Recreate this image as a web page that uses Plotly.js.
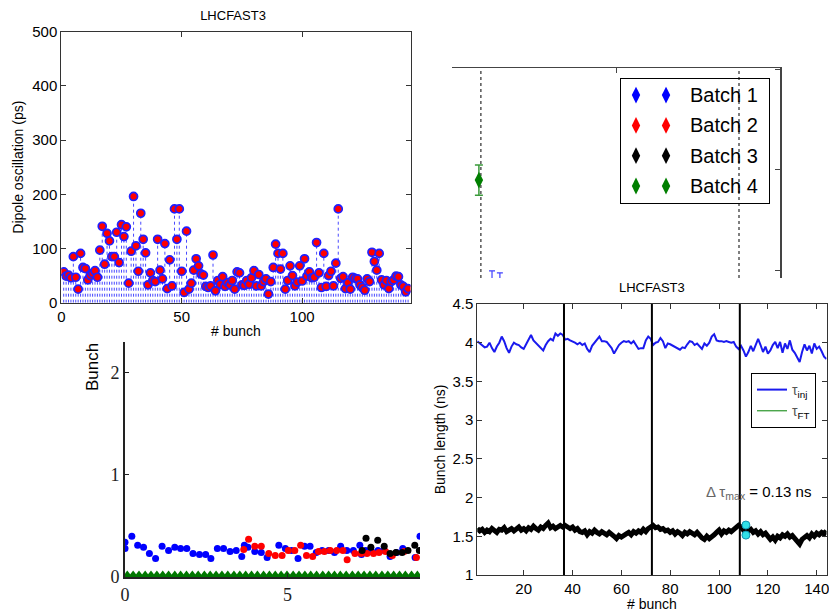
<!DOCTYPE html>
<html><head><meta charset="utf-8">
<script src="https://cdn.plot.ly/plotly-3.0.1.min.js"></script>
<style>html,body{margin:0;padding:0;background:#fff}#chart{width:829px;height:612px}</style>
</head><body><div id="chart"></div>
<script>
// ---------- Panel 1 : dipole oscillation per bunch (stem plot) ----------
const dipolePs = [57,49,51,46,85,47,25,91,65,63,42,50,54,59,47,97,141,71,128,114,85,85,130,74,144,122,140,36,95,196,
  105,58,165,117,92,33,55,41,39,117,60,44,109,26,79,31,173,117,173,58,19,132,25,36,60,81,68,53,51,30,
  28,31,88,22,41,34,48,30,37,33,41,25,57,55,33,32,41,34,46,59,31,52,31,39,44,16,39,65,108,91,
  62,91,25,41,68,50,31,38,68,40,81,49,57,46,47,111,55,28,91,30,50,58,31,73,173,45,48,26,37,25,
  47,45,44,33,28,23,44,39,93,76,60,91,42,33,41,26,39,42,49,48,33,30,20,26];
const p1XTicks = [0, 50, 100];

// ---------- Panel 2 : fragment with error bars and batch legend ----------
const batchNames = ['Batch 1', 'Batch 2', 'Batch 3', 'Batch 4'];
const batchColors = ['#0000ff', '#ff0000', '#000000', '#007f00'];
const p2GreenX = [0.82], p2GreenY = [0.9], p2GreenErr = [0.15];
const p2BlueX = [1.22, 1.46], p2BlueY = [-0.30, -0.32], p2BlueErr = [0.30, 0.30];
const p2GridX = [0.88, 8.75];
const p2XTicks = [0, 5, 10], p2YTicks = [0, 1, 2];
const legendKeyCols = [1, 2];

// ---------- Panel 3 : bunch scatter ----------
const p3BlueX = [0.0,0.0,0.21,0.39,0.57,0.75,0.94,1.14,1.34,1.53,1.71,1.90,2.09,2.29,2.48,2.64,2.84,3.03,3.23,3.42,
  3.59,3.67,3.78,3.99,4.19,4.37,4.73,4.93,5.12,5.32,5.52,5.69,5.88,6.06,6.26,6.44,6.63,6.82,7.02,7.22,
  7.27,7.40,7.58,7.78,7.97,8.15,8.35,8.54,8.92,9.07];
const p3BlueY = [0.34,0.28,0.40,0.31,0.29,0.23,0.18,0.30,0.26,0.29,0.28,0.28,0.23,0.22,0.22,0.18,0.28,0.28,0.25,0.26,
  0.20,0.31,0.29,0.25,0.24,0.19,0.31,0.28,0.26,0.18,0.30,0.30,0.24,0.26,0.26,0.24,0.30,0.26,0.26,0.31,
  0.22,0.26,0.25,0.26,0.26,0.20,0.24,0.28,0.19,0.40];
const p3RedX = [3.65,3.80,3.99,4.19,4.42,4.62,4.83,5.02,5.22,5.40,5.58,5.77,5.95,6.13,6.31,6.51,6.70,6.83,7.07,7.26,7.44,7.64,7.81,8.01,8.22,8.58,8.96];
const p3RedY = [0.27,0.37,0.30,0.30,0.23,0.21,0.21,0.26,0.26,0.31,0.21,0.20,0.25,0.25,0.26,0.26,0.26,0.17,0.23,0.23,0.23,0.23,0.24,0.25,0.21,0.25,0.19];
const p3BlackX = [7.29,7.41,7.56,7.77,7.97,8.15,8.33,8.52,8.70,8.91,9.05];
const p3BlackY = [0.26,0.38,0.29,0.36,0.30,0.23,0.24,0.24,0.26,0.31,0.26];
const p3GreenX = [0.07,0.25,0.43,0.62,0.80,0.98,1.16,1.34,1.53,1.71,1.89,2.07,2.25,2.44,2.62,2.80,2.98,3.16,3.35,3.53,
  3.71,3.89,4.07,4.26,4.44,4.62,4.80,4.98,5.17,5.35,5.53,5.71,5.89,6.08,6.26,6.44,6.62,6.80,6.99,7.17,
  7.35,7.53,7.71,7.90,8.08,8.26,8.44,8.62,8.81,8.99];
const p3GreenY = [0,0,0,0,0,0,0,0,0,0,0,0,0,0,0,0,0,0,0,0,0,0,0,0,0,0,0,0,0,0,0,0,0,0,0,0,0,0,0,0,0,0,0,0,0,0,0,0,0,0];
const p3XTicks = [0, 5], p3YTicks = [0, 1, 2];

// ---------- Panel 4 : bunch length ----------
const injLength = [4.02,3.99,3.97,3.94,3.95,4.00,3.93,3.88,3.95,4.00,4.08,4.02,3.93,3.87,3.95,4.00,3.98,3.97,3.94,3.92,3.98,4.05,4.10,4.03,4.00,3.97,3.93,3.90,3.97,4.02,4.05,4.03,4.12,4.09,4.12,4.10,
  4.04,4.05,4.03,4.02,4.00,3.98,4.00,3.97,3.99,3.92,3.88,3.96,4.00,4.05,4.08,4.02,4.02,4.01,3.97,3.93,3.86,3.92,3.97,4.00,4.02,4.01,4.02,3.99,4.02,3.97,3.92,3.93,3.93,4.03,4.08,4.05,
  3.97,4.00,4.01,4.06,4.02,3.93,3.99,3.98,3.96,3.94,3.92,3.91,3.94,3.93,3.98,4.02,4.01,3.97,3.99,3.95,3.92,3.99,3.96,4.00,4.08,4.11,4.03,4.02,4.02,4.01,4.02,4.01,4.00,4.01,3.95,3.92,
  3.96,3.90,3.82,3.88,3.96,3.89,3.96,4.05,3.97,3.88,3.95,3.86,3.90,3.97,4.01,3.93,4.01,3.87,3.99,3.92,4.03,3.91,3.87,3.81,3.75,3.88,3.98,3.90,3.96,3.86,3.99,3.92,3.95,3.89,3.82,3.79];
const ftLength = [1.60,1.57,1.59,1.55,1.58,1.56,1.60,1.57,1.55,1.59,1.58,1.61,1.56,1.58,1.60,1.57,1.59,1.62,1.58,1.60,1.57,1.61,1.59,1.63,1.60,1.58,1.62,1.60,1.64,1.67,1.61,1.63,1.60,1.62,1.64,1.62,
  1.64,1.62,1.60,1.62,1.58,1.60,1.56,1.55,1.57,1.52,1.56,1.54,1.58,1.55,1.53,1.56,1.54,1.52,1.55,1.53,1.50,1.47,1.51,1.49,1.52,1.53,1.55,1.52,1.56,1.54,1.57,1.55,1.59,1.56,1.60,1.63,
  1.64,1.61,1.62,1.59,1.60,1.57,1.58,1.55,1.57,1.53,1.56,1.54,1.51,1.55,1.53,1.56,1.54,1.52,1.55,1.50,1.48,1.46,1.50,1.47,1.49,1.52,1.55,1.58,1.53,1.57,1.55,1.58,1.56,1.59,1.61,1.64,
  1.62,1.58,1.60,1.57,1.59,1.55,1.57,1.53,1.56,1.52,1.54,1.50,1.46,1.49,1.45,1.50,1.48,1.52,1.50,1.53,1.49,1.51,1.47,1.43,1.40,1.46,1.49,1.51,1.48,1.53,1.50,1.54,1.52,1.55,1.53,1.57];
const batchEdges = [36.5, 72.5, 108.5];
const deltaMarkX = [111, 111], deltaMarkY = [1.645, 1.515];
const p4XTicks = [20, 40, 60, 80, 100, 120, 140];

// ---------- build ----------
const SANS = 'Liberation Sans, Arial, Helvetica, sans-serif';
const SERIF = 'Liberation Serif, DejaVu Serif, serif';
const bunchIdx = dipolePs.map((_, i) => i + 1);
const bunchIdx4 = injLength.map((_, i) => i + 1);

const stemX = [], stemY = [];
dipolePs.forEach((v, i) => { stemX.push(bunchIdx[i], bunchIdx[i], null); stemY.push(0, v, null); });

const traces = [
  {x: stemX, y: stemY, xaxis: 'x', yaxis: 'y', mode: 'lines', showlegend: false, hoverinfo: 'skip',
   line: {color: '#4a4aff', width: 1, dash: 'dot'}},
  {x: bunchIdx, y: dipolePs, xaxis: 'x', yaxis: 'y', mode: 'markers', showlegend: false,
   marker: {color: '#ff0000', size: 8, line: {color: '#2020ff', width: 1.7}}},

  // panel 2
  {x: p2GreenX, y: p2GreenY, xaxis: 'x2', yaxis: 'y2', mode: 'markers', showlegend: false,
   marker: {symbol: 'diamond-tall', color: '#007f00', size: 12},
   error_y: {type: 'data', array: p2GreenErr, visible: true, color: '#3a9a3a', thickness: 1.5, width: 4}},
  {x: p2BlueX, y: p2BlueY, xaxis: 'x2', yaxis: 'y2', mode: 'markers', showlegend: false,
   marker: {symbol: 'diamond-tall', color: '#0000ff', size: 10},
   error_y: {type: 'data', array: p2BlueErr, visible: true, color: '#4040ff', thickness: 1.2, width: 3}},

  // panel 3
  {x: p3GreenX, y: p3GreenY, xaxis: 'x3', yaxis: 'y3', mode: 'markers', showlegend: false,
   marker: {symbol: 'triangle-up', color: '#007700', size: 13}},
  {x: p3BlueX, y: p3BlueY, xaxis: 'x3', yaxis: 'y3', mode: 'markers', showlegend: false,
   marker: {color: '#0000ff', size: 7}},
  {x: p3RedX, y: p3RedY, xaxis: 'x3', yaxis: 'y3', mode: 'markers', showlegend: false,
   marker: {color: '#ff0000', size: 7}},
  {x: p3BlackX, y: p3BlackY, xaxis: 'x3', yaxis: 'y3', mode: 'markers', showlegend: false,
   marker: {color: '#000000', size: 7}},

  // panel 4
  {x: bunchIdx4, y: injLength, xaxis: 'x4', yaxis: 'y4', mode: 'lines', name: '<span style="color:#555">τ</span><sub>inj</sub>',
   line: {color: '#1a1aee', width: 2}},
  {x: bunchIdx4, y: ftLength, xaxis: 'x4', yaxis: 'y4', mode: 'lines', name: '<span style="color:#555">τ</span><sub>FT</sub>',
   line: {color: '#008000', width: 1}},
  {x: bunchIdx4, y: ftLength, xaxis: 'x4', yaxis: 'y4', mode: 'lines', showlegend: false,
   line: {color: '#000000', width: 5}},
  {x: deltaMarkX, y: deltaMarkY, xaxis: 'x4', yaxis: 'y4', mode: 'markers', showlegend: false,
   marker: {color: '#30e0e8', size: 8, line: {color: '#1090b0', width: 1}}}
];

// panel 2 legend keys (two diamonds per batch)
batchNames.forEach((name, i) => {
  traces.push({x: legendKeyCols, y: legendKeyCols.map(() => i + 1), xaxis: 'x5', yaxis: 'y5', mode: 'markers',
    showlegend: false, hoverinfo: 'skip', marker: {symbol: 'diamond-tall', color: batchColors[i], size: 12}});
});

const W = 829, H = 612;
const dx = (a, b) => [a / W, b / W];
const dy = (top, bottom) => [1 - bottom / H, 1 - top / H];

const boxAxis = (extra) => Object.assign({
  showline: true, linecolor: '#333', linewidth: 1, mirror: 'ticks', ticks: 'inside', ticklen: 5,
  tickcolor: '#333', showgrid: false, zeroline: false, ticklabeloverflow: 'allow',
  tickfont: {family: SANS, size: 15, color: '#000'}
}, extra);

const layout = {
  width: W, height: H, margin: {l: 0, r: 0, t: 0, b: 0},
  paper_bgcolor: '#fff', plot_bgcolor: 'rgba(0,0,0,0)',
  font: {family: SANS, color: '#000'},
  title: {text: 'LHCFAST3', x: 233 / W, y: 1 - 15 / H, xanchor: 'center', yanchor: 'middle',
          font: {family: SANS, size: 13, color: '#000'}},
  showlegend: true,
  legend: {x: 751 / W, y: 1 - 373 / H, xanchor: 'left', yanchor: 'top', bgcolor: '#fff',
           bordercolor: '#000', borderwidth: 1, font: {family: SANS, size: 14, color: '#000'},
           itemwidth: 30, tracegroupgap: 4},

  xaxis: boxAxis({domain: dx(61.3, 410.5), anchor: 'y', range: [0, 145], tickvals: p1XTicks,
    title: {text: '# bunch', font: {family: SANS, size: 14}, standoff: 2}}),
  yaxis: boxAxis({domain: dy(31.7, 302.7), anchor: 'x', range: [0, 500], dtick: 100,
    title: {text: 'Dipole oscillation (ps)', font: {family: SANS, size: 14}, standoff: 5}}),

  xaxis2: {domain: dx(452, 780), anchor: 'y2', side: 'top', range: [0, 10], tickvals: p2XTicks,
    showticklabels: false, ticks: 'inside', ticklen: 5, tickcolor: '#444', showline: true, linecolor: '#444',
    linewidth: 1.5, showgrid: false, zeroline: false},
  yaxis2: {domain: dy(68, 278), anchor: 'x2', side: 'right', range: [-0.07, 2.01], tickvals: p2YTicks,
    showticklabels: false, ticks: 'inside', ticklen: 5, tickcolor: '#444', showline: true, linecolor: '#444',
    linewidth: 1.5, showgrid: false, zeroline: false},

  xaxis3: {domain: dx(125, 420), anchor: 'y3', range: [0, 9.07], tickvals: p3XTicks, ticks: 'inside', ticklen: 4,
    tickcolor: '#222', showline: true, linecolor: '#222', linewidth: 2, showgrid: false, zeroline: false,
    tickfont: {family: SERIF, size: 18, color: '#222'}},
  yaxis3: {domain: dy(342, 577), anchor: 'x3', range: [0, 2.3], tickvals: p3YTicks, ticks: 'inside', ticklen: 4,
    tickcolor: '#222', showline: true, linecolor: '#222', linewidth: 2, showgrid: false, zeroline: false,
    tickfont: {family: SERIF, size: 18, color: '#222'}},

  xaxis4: boxAxis({domain: dx(477.3, 826.5), anchor: 'y4', range: [1, 144], tickvals: p4XTicks,
    title: {text: '# bunch', font: {family: SANS, size: 14}, standoff: 2}}),
  yaxis4: boxAxis({domain: dy(304, 575), anchor: 'x4', range: [1, 4.5], dtick: 0.5,
    title: {text: 'Bunch length (ns)', font: {family: SANS, size: 14}, standoff: 3}}),

  xaxis5: {domain: dx(621, 769), anchor: 'y5', range: [0.5, 5.43], showline: true, mirror: true, linecolor: '#000',
    linewidth: 1, ticks: '', showticklabels: false, showgrid: false, zeroline: false, fixedrange: true},
  yaxis5: {domain: dy(79, 203), anchor: 'x5', range: [4.56, 0.47], showline: true, mirror: true, linecolor: '#000',
    linewidth: 1, ticks: '', showticklabels: false, showgrid: false, zeroline: false, fixedrange: true},

  shapes: [
    ...p2GridX.map(v => ({type: 'line', xref: 'x2', yref: 'y2 domain', x0: v, x1: v, y0: 0, y1: 1,
      line: {color: '#555', width: 1.5, dash: 'dot'}, layer: 'below'})),
    ...batchEdges.map(v => ({type: 'line', xref: 'x4', yref: 'y4 domain', x0: v, x1: v, y0: 0, y1: 1,
      line: {color: '#000', width: 2}}))
  ],

  annotations: [
    {text: 'LHCFAST3', xref: 'paper', yref: 'paper', x: 652 / W, y: 1 - 287 / H, showarrow: false,
     xanchor: 'center', yanchor: 'middle', font: {family: SANS, size: 13, color: '#000'}},
    {text: 'Bunch', xref: 'paper', yref: 'paper', x: 92 / W, y: 1 - 367 / H, showarrow: false, textangle: -90,
     xanchor: 'center', yanchor: 'middle', font: {family: SANS, size: 17, color: '#000'}},
    {text: '<span style="color:#666">Δ τ<sub>max</sub></span> = 0.13 ns', xref: 'paper', yref: 'paper',
     x: 758 / W, y: 1 - 492 / H, showarrow: false, xanchor: 'center', yanchor: 'middle',
     font: {family: SANS, size: 15, color: '#000'}},
    ...batchNames.map((name, i) => ({text: name, xref: 'x5', yref: 'y5', x: 2.73, y: i + 1, showarrow: false,
     xanchor: 'left', yanchor: 'middle', font: {family: SANS, size: 20, color: '#000'}}))
  ]
};

Plotly.newPlot('chart', traces, layout, {displayModeBar: false, staticPlot: true});
</script>
</body></html>
